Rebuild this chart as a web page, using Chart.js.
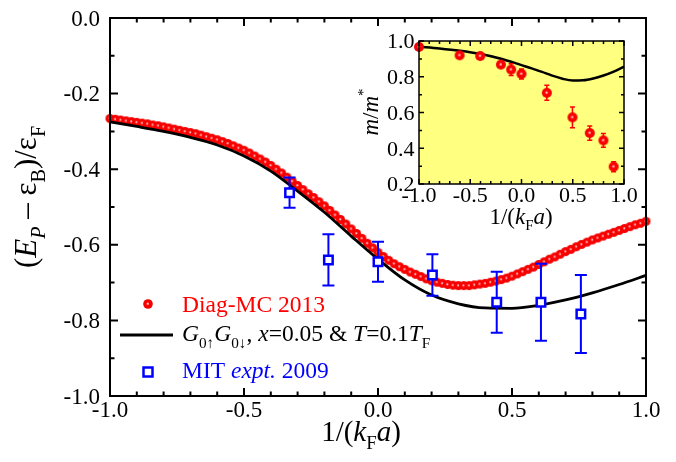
<!DOCTYPE html>
<html><head><meta charset="utf-8">
<script src="https://cdn.jsdelivr.net/npm/chart.js@4"></script>
<style>
html,body{margin:0;padding:0;background:#fff;}
#wrap{position:relative;width:676px;height:462px;overflow:hidden;}
#main{position:absolute;left:0;top:0;}
#inset{position:absolute;left:340px;top:20px;}
</style></head><body>
<div id="wrap"><canvas id="main" width="676" height="462"></canvas><canvas id="inset" width="300" height="220"></canvas></div>
<script>
// ---------- data (main panel) ----------
const diagX = [-1.00,-0.98,-0.96,-0.94,-0.92,-0.90,-0.88,-0.86,-0.84,-0.82,-0.80,-0.78,-0.76,-0.74,-0.72,-0.70,-0.68,-0.66,-0.64,-0.62,-0.60,-0.58,-0.56,-0.54,-0.52,-0.50,-0.48,-0.46,-0.44,-0.42,-0.40,-0.38,-0.36,-0.34,-0.32,-0.30,-0.28,-0.26,-0.24,-0.22,-0.20,-0.18,-0.16,-0.14,-0.12,-0.10,-0.08,-0.06,-0.04,-0.02,0.00,0.02,0.04,0.06,0.08,0.10,0.12,0.14,0.16,0.18,0.20,0.22,0.24,0.26,0.28,0.30,0.32,0.34,0.36,0.38,0.40,0.42,0.44,0.46,0.48,0.50,0.52,0.54,0.56,0.58,0.60,0.62,0.64,0.66,0.68,0.70,0.72,0.74,0.76,0.78,0.80,0.82,0.84,0.86,0.88,0.90,0.92,0.94,0.96,0.98,1.00];
const diagY = [-0.266,-0.268,-0.270,-0.272,-0.274,-0.276,
-0.278,-0.280,-0.283,-0.285,-0.288,
-0.291,-0.294,-0.297,-0.300,-0.303,
-0.306,-0.310,-0.314,-0.318,-0.322,
-0.327,-0.332,-0.338,-0.344,-0.350,
-0.357,-0.365,-0.373,-0.381,-0.390,
-0.400,-0.410,-0.421,-0.432,-0.443,
-0.454,-0.465,-0.475,-0.486,-0.497,
-0.509,-0.521,-0.533,-0.545,-0.558,
-0.570,-0.583,-0.596,-0.608,-0.620,
-0.631,-0.641,-0.650,-0.658,-0.665,
-0.672,-0.678,-0.684,-0.690,-0.695,
-0.699,-0.702,-0.705,-0.707,-0.708,
-0.708,-0.708,-0.706,-0.704,-0.702,
-0.699,-0.696,-0.692,-0.688,-0.683,
-0.677,-0.671,-0.665,-0.659,-0.652,
-0.645,-0.638,-0.632,-0.625,-0.618,
-0.612,-0.605,-0.599,-0.593,-0.587,
-0.582,-0.577,-0.572,-0.567,-0.562,
-0.557,-0.552,-0.547,-0.543,-0.538];
const theoryX = [-1.0,-0.9,-0.8,-0.7,-0.6,-0.5,-0.4,-0.3,-0.2,-0.1,0.0,0.1,0.2,0.3,0.4,0.5,0.6,0.7,0.8,0.9,1.0];
const theoryY = [-0.275,-0.287,-0.300,-0.316,-0.336,-0.365,-0.405,-0.458,-0.514,-0.577,-0.638,-0.693,-0.733,-0.756,-0.767,-0.768,-0.760,-0.746,-0.727,-0.705,-0.681];
const mitX = [-0.33,-0.185,0.0,0.203,0.443,0.608,0.757];
const mitY = [-0.462,-0.640,-0.645,-0.680,-0.752,-0.752,-0.783];
const mitErr = [0.040,0.068,0.053,0.055,0.081,0.102,0.103];
const mainXTicks = [-1.0,-0.5,0.0,0.5,1.0];
const mainXLabels = ['-1.0','-0.5','0.0','0.5','1.0'];
const mainYTicks = [-1.0,-0.8,-0.6,-0.4,-0.2,0.0];
const mainYLabels = ['-1.0','-0.8','-0.6','-0.4','-0.2','0.0'];

// ---------- data (inset) ----------
const massX = [-1.0,-0.604,-0.403,-0.201,-0.101,0.0,0.247,0.497,0.666,0.799,0.899];
const massY = [0.967,0.920,0.916,0.868,0.840,0.816,0.710,0.573,0.485,0.444,0.297];
const massErr = [0.010,0.010,0.010,0.012,0.033,0.028,0.042,0.058,0.040,0.039,0.028];
const massTheoryX = [-1.0,-0.8,-0.6,-0.4,-0.2,0.0,0.1,0.2,0.3,0.4,0.5,0.6,0.7,0.8,0.9,1.0];
const massTheoryY = [0.968,0.958,0.945,0.927,0.901,0.865,0.847,0.827,0.806,0.789,0.779,0.780,0.790,0.807,0.829,0.856];
const insetXTicks = [-1.0,-0.5,0.0,0.5,1.0];
const insetXLabels = ['-1.0','-0.5','0.0','0.5','1.0'];
const insetYTicks = [0.2,0.4,0.6,0.8,1.0];
const insetYLabels = ['0.2','0.4','0.6','0.8','1.0'];

const SERIF = 'Liberation Serif';
Chart.defaults.font.family = SERIF;
Chart.defaults.color = '#000';

function ball(r){
  const c=document.createElement('canvas'); const s=Math.ceil(r*2+2);
  c.width=s; c.height=s; const g=c.getContext('2d'); const cx=s/2, cy=s/2;
  const grd=g.createRadialGradient(cx-0.3,cy-0.3,0,cx,cy,r);
  grd.addColorStop(0,'#fff0f0'); grd.addColorStop(0.14,'#ffa0a0'); grd.addColorStop(0.36,'#ff0000'); grd.addColorStop(1,'#f00000');
  g.fillStyle=grd; g.beginPath(); g.arc(cx,cy,r,0,Math.PI*2); g.fill(); return c;
}
const ballMain = ball(4.5), ballInset = ball(5), ballLegend = ball(4.8);

function rich(ctx, parts, x, y, size, color, draw){
  let cx = x;
  for (const p of parts){
    const s = (p.sub||p.sup) ? size*0.65 : size;
    ctx.font = (p.i?'italic ':'') + s + 'px "' + SERIF + '"';
    const dy = p.sub ? size*0.28 : (p.sup ? -size*0.45 : 0);
    if (draw){ ctx.fillStyle = p.c || color; ctx.fillText(p.t, cx, y+dy); }
    cx += ctx.measureText(p.t).width;
  }
  return cx - x;
}
function richCentered(ctx, parts, x, y, size, color){
  const w = rich(ctx, parts, 0, 0, size, color, false);
  rich(ctx, parts, x - w/2, y, size, color, true);
}

function frame(chart, o){
  const {ctx, chartArea:a, scales:{x, y}} = chart;
  ctx.save();
  ctx.strokeStyle='#000'; ctx.lineWidth=o.lw;
  ctx.beginPath();
  for (let k=0; ; k++){
    const v = x.min + k*o.xMinor; if (v > x.max + 1e-9) break;
    const p = x.getPixelForValue(v);
    const L = Math.abs(v/o.xMajor - Math.round(v/o.xMajor)) < 1e-6 ? o.maj : o.mnr;
    ctx.moveTo(p, a.bottom); ctx.lineTo(p, a.bottom - L);
    ctx.moveTo(p, a.top); ctx.lineTo(p, a.top + L);
  }
  for (let k=0; ; k++){
    const v = y.min + k*o.yMinor; if (v > y.max + 1e-9) break;
    const p = y.getPixelForValue(v);
    const L = Math.abs(v/o.yMajor - Math.round(v/o.yMajor)) < 1e-6 ? o.maj : o.mnr;
    ctx.moveTo(a.left, p); ctx.lineTo(a.left + L, p);
    ctx.moveTo(a.right, p); ctx.lineTo(a.right - L, p);
  }
  ctx.stroke();
  ctx.strokeRect(a.left, a.top, a.right-a.left, a.bottom-a.top);
  ctx.fillStyle='#000';
  ctx.font = o.fs + 'px "' + SERIF + '"';
  ctx.textBaseline='alphabetic';
  ctx.textAlign='center';
  o.xt.forEach((v,i)=>{ ctx.fillText(o.xl[i], x.getPixelForValue(v), a.bottom + o.xBase); });
  ctx.textAlign='right';
  o.yt.forEach((v,i)=>{ ctx.fillText(o.yl[i], a.left - o.yGap, y.getPixelForValue(v) + o.fs*0.33); });
  ctx.restore();
}
function errorBars(chart, xs, ys, es, color, lw, cap){
  const {ctx, scales:{x, y}} = chart;
  ctx.save(); ctx.strokeStyle=color; ctx.lineWidth=lw; ctx.beginPath();
  for (let i=0;i<xs.length;i++){
    const px = x.getPixelForValue(xs[i]);
    const p1 = y.getPixelForValue(ys[i]+es[i]), p2 = y.getPixelForValue(ys[i]-es[i]);
    ctx.moveTo(px,p1); ctx.lineTo(px,p2);
    ctx.moveTo(px-cap,p1); ctx.lineTo(px+cap,p1);
    ctx.moveTo(px-cap,p2); ctx.lineTo(px+cap,p2);
  }
  ctx.stroke(); ctx.restore();
}
const pts = (xs, ys) => xs.map((v,i)=>({x:v, y:ys[i]}));

// ---------- main chart ----------
const mainPlugin = {
  id:'mainDeco',
  beforeDatasetDraw(chart, args){
    if (args.index === 0) errorBars(chart, mitX, mitY, mitErr, '#0000ff', 2, 6);
  },
  afterDraw(chart){
    const ctx = chart.ctx;
    frame(chart, {lw:2, xMinor:0.1, xMajor:0.5, yMinor:0.1, yMajor:0.2, maj:8, mnr:4.5,
      fs:23, xt:mainXTicks, xl:mainXLabels, yt:mainYTicks, yl:mainYLabels, xBase:21, yGap:10});
    ctx.save();
    ctx.textAlign='left'; ctx.textBaseline='alphabetic';
    richCentered(ctx, [{t:'1/('},{t:'k',i:1},{t:'F',sub:1},{t:'a',i:1},{t:')'}], 361, 441, 29, '#000');
    ctx.save(); ctx.translate(36, 197); ctx.rotate(-Math.PI/2);
    richCentered(ctx, [{t:'('},{t:'E',i:1},{t:'P',i:1,sub:1},{t:' – '},{t:'ε'},{t:'B',sub:1},{t:')/ε'},{t:'F',sub:1}], 0, 0, 31, '#000');
    ctx.restore();
    const LS = 23.5;
    ctx.drawImage(ballLegend, 148 - ballLegend.width/2, 304 - ballLegend.height/2);
    rich(ctx, [{t:'Diag-MC 2013'}], 182, 312, LS, '#ff0000', true);
    ctx.strokeStyle='#000'; ctx.lineWidth=3; ctx.beginPath(); ctx.moveTo(120,335); ctx.lineTo(173,335); ctx.stroke();
    rich(ctx, [{t:'G',i:1},{t:'0↑',sub:1},{t:'G',i:1},{t:'0↓',sub:1},{t:', '},{t:'x',i:1},{t:'=0.05 & '},{t:'T',i:1},{t:'=0.1'},{t:'T',i:1},{t:'F',sub:1}], 182, 341, LS, '#000', true);
    ctx.strokeStyle='#0000ff'; ctx.lineWidth=2.5; ctx.fillStyle='#fff';
    ctx.fillRect(143.5,367.5,9,9); ctx.strokeRect(143.5,367.5,9,9);
    rich(ctx, [{t:'MIT '},{t:'expt.',i:1},{t:' 2009'}], 182, 378, LS, '#0000ff', true);
    ctx.restore();
  }
};

new Chart(document.getElementById('main'), {
  type:'scatter',
  data:{datasets:[
    {label:'MIT expt. 2009', data:pts(mitX,mitY), pointStyle:'rect', pointRadius:6, borderColor:'#0000ff', backgroundColor:'#ffffff', pointBorderWidth:2.5, showLine:false, clip:false},
    {label:'G0G0', data:pts(theoryX,theoryY), showLine:true, pointRadius:0, borderColor:'#000', borderWidth:2.8, cubicInterpolationMode:'monotone', clip:false},
    {label:'Diag-MC 2013', data:pts(diagX,diagY), pointStyle:ballMain, pointRadius:4.5, showLine:false, clip:false}
  ]},
  options:{
    responsive:false, animation:false, devicePixelRatio:1, events:[],
    layout:{padding:{top:18, right:30, left:0, bottom:0}},
    plugins:{legend:{display:false}, tooltip:{enabled:false}},
    scales:{
      x:{type:'linear', min:-1, max:1,
        afterFit(s){ s.height = 66; },
        ticks:{display:false},
        grid:{display:false}, border:{display:false}},
      y:{type:'linear', min:-1, max:0,
        afterFit(s){ s.width = 110; },
        ticks:{display:false},
        grid:{display:false}, border:{display:false}}
    }
  },
  plugins:[mainPlugin]
});

// ---------- inset chart ----------
const insetPlugin = {
  id:'insetDeco',
  beforeDraw(chart){
    const {ctx, chartArea:a} = chart;
    ctx.save(); ctx.fillStyle='#ffff80'; ctx.fillRect(a.left,a.top,a.right-a.left,a.bottom-a.top); ctx.restore();
  },
  beforeDatasetDraw(chart, args){
    if (args.index === 0) errorBars(chart, massX, massY, massErr, '#ff0000', 1.5, 2.5);
  },
  afterDraw(chart){
    const ctx = chart.ctx;
    frame(chart, {lw:1.5, xMinor:0.1, xMajor:0.5, yMinor:0.1, yMajor:0.2, maj:5, mnr:3,
      fs:22, xt:insetXTicks, xl:insetXLabels, yt:insetYTicks, yl:insetYLabels, xBase:18, yGap:4.5});
    ctx.save(); ctx.textAlign='left'; ctx.textBaseline='alphabetic';
    richCentered(ctx, [{t:'1/('},{t:'k',i:1},{t:'F',sub:1},{t:'a',i:1},{t:')'}], 181, 204, 23, '#000');
    ctx.save(); ctx.translate(38, 92); ctx.rotate(-Math.PI/2);
    richCentered(ctx, [{t:'m',i:1},{t:'/'},{t:'m',i:1},{t:'*',sup:1}], 0, 0, 23, '#000');
    ctx.restore();
    ctx.restore();
  }
};

new Chart(document.getElementById('inset'), {
  type:'scatter',
  data:{datasets:[
    {label:'m/m*', data:pts(massX,massY), pointStyle:ballInset, pointRadius:5, showLine:false, clip:false},
    {label:'theory', data:pts(massTheoryX,massTheoryY), showLine:true, pointRadius:0, borderColor:'#000', borderWidth:2.5, cubicInterpolationMode:'monotone', clip:false}
  ]},
  options:{
    responsive:false, animation:false, devicePixelRatio:1, events:[],
    layout:{padding:{top:21, right:16, left:0, bottom:0}},
    plugins:{legend:{display:false}, tooltip:{enabled:false}},
    scales:{
      x:{type:'linear', min:-1, max:1,
        afterFit(s){ s.height = 56; },
        ticks:{display:false},
        grid:{display:false}, border:{display:false}},
      y:{type:'linear', min:0.2, max:1.0,
        afterFit(s){ s.width = 79; },
        ticks:{display:false},
        grid:{display:false}, border:{display:false}}
    }
  },
  plugins:[insetPlugin]
});
</script>
</body></html>
